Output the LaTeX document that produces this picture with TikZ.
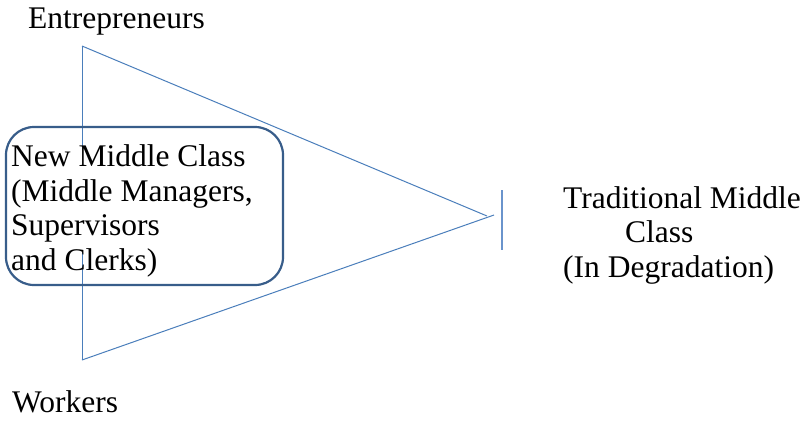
\documentclass[tikz,border=0pt]{standalone}
\usepackage{fontspec}
\setmainfont{Liberation Serif}
\definecolor{triblue}{HTML}{4A7EBB}
\definecolor{boxblue}{HTML}{385D8A}
\definecolor{barblue}{HTML}{6A94CC}
\begin{document}
\begin{tikzpicture}[x=1pt,y=-1pt,
  lbl/.style={inner sep=0pt, anchor=base west, align=left,
    font=\fontsize{31.5}{34.4}\selectfont},
  triline/.style={draw=triblue, line width=1pt},
  framebox/.style={draw=boxblue, line width=2.2pt, rounded corners=28pt}]
\useasboundingbox (0,0) rectangle (806,421);
% triangle vertices
\coordinate (top) at (82,46);
\coordinate (bot) at (82,360);
\coordinate (tipA) at (487,216);
\coordinate (tipB) at (494,215);
\coordinate (barT) at (502,190);
\coordinate (barB) at (502,250);
\draw[triline] (top) -- (bot);
\draw[triline] (top) -- (tipA);
\draw[triline] (bot) -- (tipB);
\draw[draw=barblue, line width=1.6pt] (barT) -- (barB);
% white text area hiding part of the vertical line
\fill[white] (10,147) rectangle (280,252);
\draw[framebox] (6,127) rectangle (283,285);
\node[lbl] (ent) at (28,28) {Entrepreneurs};
\node[lbl] (wrk) at (12,412) {Workers};
\node[lbl] (nmc) at (11,270) {New Middle Class\\(Middle Managers,\\Supervisors\\and Clerks)};
\node[lbl] (tmc) at (563,277) {Traditional Middle\\\hspace*{62pt}Class\\(In Degradation)};
\end{tikzpicture}
\end{document}
